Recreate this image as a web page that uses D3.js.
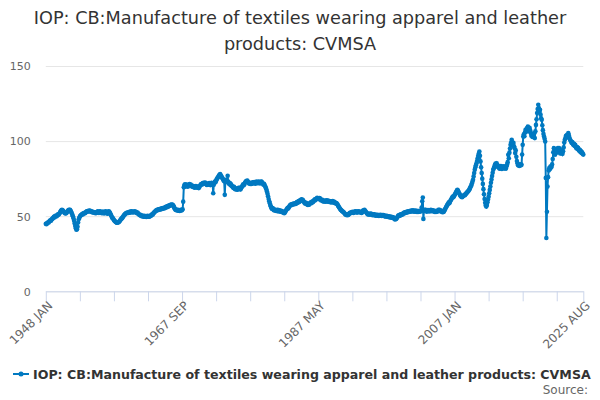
<!DOCTYPE html>
<html>
<head>
<meta charset="utf-8">
<script src="https://cdn.jsdelivr.net/npm/d3@7"></script>
<style>
  body { margin: 0; background: #fff; }
  svg { font-family: "DejaVu Sans", sans-serif; }
</style>
</head>
<body>
<svg id="canvas" width="600" height="400"></svg>
<script>
// monthly index values, one row per year
let v1948_1959 = [
  45.0, 44.6, 45.2, 45.5, 46.0, 45.8, 46.5, 46.9, 47.2, 47.0, 47.8, 48.2,
  48.5, 48.9, 49.6, 49.2, 50.1, 49.8, 50.4, 50.0, 50.6, 51.2, 51.0, 51.5,
  52.0, 52.8, 53.5, 53.9, 54.3, 54.0, 53.6, 53.0, 52.4, 52.1, 51.8, 52.0,
  52.3, 52.9, 53.5, 54.0, 54.3, 54.1, 54.2, 53.6, 52.8, 51.9, 50.8, 49.9,
  48.6, 47.0, 45.2, 43.5, 42.0, 41.0, 41.3, 43.0, 45.8, 47.9, 49.0, 49.8,
  50.3, 50.8, 51.0, 51.4, 51.2, 52.0, 51.8, 52.3, 52.0, 52.5, 52.9, 53.2,
  53.0, 53.5, 53.3, 53.8, 53.4, 53.6, 53.0, 53.2, 52.7, 52.9, 52.5, 52.8,
  52.3, 52.6, 52.0, 52.4, 52.1, 52.8, 53.2, 52.6, 52.2, 52.9, 53.3, 52.7,
  52.4, 52.0, 52.6, 53.1, 52.5, 51.8, 52.3, 52.9, 53.2, 52.6, 52.0, 51.6,
  52.8, 53.3, 52.9, 52.3, 51.5, 50.7, 49.8, 49.0, 48.7, 48.1, 47.4, 47.0,
  46.6, 46.1, 45.9, 45.6, 45.8, 46.0, 45.9, 46.3, 46.8, 47.3, 47.9, 48.3,
  48.7, 49.2, 49.8, 50.3, 50.9, 51.2, 51.6, 52.0, 52.3, 52.1, 52.5, 52.2
]
let v1960s = [
  52.6, 52.9, 52.4, 53.1, 52.7, 53.3, 52.8, 52.5, 53.0, 52.6, 53.2, 52.8,
  52.9, 52.4, 52.0, 52.5, 51.8, 51.3, 51.0, 50.6, 50.9, 50.3, 50.0, 50.4,
  50.1, 49.7, 49.9, 50.3, 49.6, 49.8, 49.5, 49.9, 50.2, 49.7, 50.0, 49.6,
  49.9, 50.4, 50.1, 50.8, 51.3, 51.0, 51.7, 52.2, 52.6, 53.0, 53.4, 53.7,
  53.9, 54.3, 54.0, 54.6, 54.3, 54.8, 54.5, 55.0, 54.7, 55.2, 55.0, 55.4,
  55.1, 55.6, 55.3, 55.9, 56.2, 55.8, 56.4, 56.7, 56.3, 56.9, 57.2, 57.0,
  57.4, 57.7, 57.3, 57.8, 57.5, 57.0, 56.2, 55.3, 54.6, 54.2, 54.5, 54.0,
  53.8, 54.2, 53.6, 54.0, 53.5, 53.9, 54.3, 53.8, 54.1, 54.6, 59.7, 69.2,
  70.5, 71.2, 69.8, 70.4, 71.0, 70.1, 69.6, 70.3, 70.9, 71.4, 70.7, 71.1,
  70.4, 69.8, 70.2, 69.5, 70.0, 69.3, 68.9, 69.6, 70.1, 69.4, 69.0, 69.7
]
let v1970s = [
  69.2, 68.7, 69.5, 70.2, 70.8, 71.4, 70.9, 71.6, 72.1, 71.5, 72.3, 71.8,
  72.4, 71.9, 71.2, 70.8, 71.5, 70.9, 71.6, 72.0, 71.3, 70.7, 71.4, 72.2,
  71.5, 70.8, 65.3, 71.0, 72.3, 73.1, 72.6, 73.8, 74.5, 75.2, 75.8, 76.4,
  77.1, 77.6, 78.0, 77.2, 76.5, 75.9, 75.2, 74.6, 73.8, 73.2, 64.2, 73.5,
  74.2, 73.4, 72.6, 76.9, 73.0, 72.1, 71.4, 72.0, 70.6, 71.2, 70.3, 69.8,
  69.4, 68.8, 69.6, 68.5, 67.9, 68.6, 67.8, 68.3, 67.6, 68.1, 68.9, 68.4,
  68.9, 67.8, 68.5, 69.2, 69.8, 70.5, 71.2, 70.6, 71.5, 72.3, 72.8, 73.4,
  73.0, 73.7, 72.9, 72.4, 71.8, 72.3, 71.5, 72.0, 71.4, 71.9, 72.5, 71.8,
  72.3, 72.8, 72.1, 71.6, 72.4, 73.0, 72.6, 71.9, 72.5, 73.1, 72.4, 71.8,
  72.5, 73.0, 72.9, 72.2, 71.6, 70.9, 71.5, 70.7, 69.8, 69.0, 67.9, 66.4
]
let v1980s = [
  65.0, 63.2, 61.5, 60.0, 58.7, 57.2, 56.5, 55.3, 54.8, 55.4, 54.6, 54.0,
  54.5, 53.8, 54.2, 53.5, 54.0, 53.4, 54.3, 53.7, 53.2, 53.9, 53.1, 53.6,
  52.9, 53.4, 52.6, 53.0, 52.3, 52.0, 52.5, 53.1, 53.8, 54.4, 55.0, 55.6,
  55.2, 56.0, 56.6, 57.3, 57.5, 58.0, 57.4, 57.9, 58.3, 57.8, 58.5, 58.1,
  58.6, 58.2, 58.9, 59.4, 58.8, 59.6, 60.1, 59.5, 60.3, 60.8, 60.2, 61.3,
  60.6, 61.0, 60.3, 59.6, 59.0, 58.4, 59.1, 58.6, 57.9, 58.4, 57.5, 58.1,
  57.6, 58.3, 58.8, 59.3, 58.7, 59.5, 60.0, 59.4, 60.2, 60.7, 61.2, 60.6,
  61.3, 61.8, 62.2, 61.6, 62.0, 61.4, 62.1, 61.7, 61.0, 60.5, 61.1, 60.4,
  59.9, 60.5, 59.8, 60.3, 59.6, 60.1, 60.6, 59.9, 60.4, 59.7, 60.2, 59.5,
  60.0, 59.4, 59.9, 59.2, 59.7, 60.1, 59.5, 59.0, 59.6, 58.9, 58.5, 58.8
]
let v1990s = [
  58.4, 57.9, 57.2, 56.6, 56.0, 55.3, 54.8, 54.2, 53.9, 53.5, 53.1, 53.0,
  52.6, 52.1, 51.6, 51.2, 50.9, 51.3, 50.7, 51.2, 50.8, 51.4, 51.9, 52.3,
  52.0, 52.6, 52.3, 52.9, 52.5, 52.2, 52.8, 53.1, 52.7, 53.3, 52.9, 52.4,
  52.8, 53.3, 52.7, 53.1, 52.6, 53.0, 52.5, 52.1, 52.7, 53.4, 54.0, 53.5,
  54.2, 53.6, 53.1, 52.6, 52.0, 51.7, 51.2, 51.6, 51.0, 51.4, 51.8, 51.2,
  51.6, 51.0, 50.6, 51.2, 50.8, 51.3, 50.7, 50.4, 51.0, 50.5, 50.9, 50.3,
  50.7, 50.2, 50.8, 50.4, 51.0, 50.6, 50.1, 50.7, 50.3, 50.8, 50.2, 49.9,
  50.3, 49.8, 50.2, 49.6, 50.1, 49.5, 49.9, 49.3, 49.7, 49.1, 49.6, 49.0,
  49.4, 48.9, 49.3, 48.6, 48.2, 47.8, 48.5, 48.1, 48.8, 49.4, 50.1, 50.6,
  50.2, 50.9, 50.5, 51.2, 50.8, 51.5, 51.1, 51.8, 52.3, 51.9, 52.6, 52.2
]
let v2000s = [
  52.8, 52.4, 53.1, 52.7, 53.3, 52.9, 53.5, 53.0, 53.6, 53.2, 53.8, 53.3,
  53.9, 53.4, 53.0, 53.6, 53.1, 53.7, 53.2, 52.8, 53.4, 52.9, 53.5, 53.0,
  53.6, 53.1, 53.5, 55.8, 60.0, 62.5, 48.2, 53.8, 54.3, 53.7, 54.2, 53.5,
  53.0, 53.6, 54.1, 53.5, 53.9, 53.2, 53.7, 54.3, 53.8, 53.3, 53.9, 53.4,
  53.8, 53.2, 52.8, 53.4, 52.9, 53.5, 53.0, 53.6, 54.2, 53.7, 54.3, 53.6,
  53.1, 53.7, 53.2, 52.6, 53.3, 52.8, 53.5, 54.2, 55.0, 55.8, 56.5, 57.2,
  57.8, 58.5, 59.2, 58.7, 59.6, 60.4, 61.0, 61.8, 62.5, 63.1, 62.6, 63.4,
  64.0, 64.8, 65.5, 66.2, 67.0, 67.6, 66.9, 66.1, 65.3, 64.5, 63.8, 63.2,
  63.0, 62.6, 63.1, 63.4, 63.8, 64.3, 64.0, 64.6, 65.1, 65.5, 65.9, 66.4,
  66.8, 67.4, 68.0, 68.9, 69.8, 70.5, 71.8, 73.0, 74.3, 76.5, 78.8, 81.0
]
let v2010s = [
  82.6, 83.9, 85.3, 86.8, 88.5, 90.2, 91.7, 93.0, 90.2, 86.5, 82.6, 78.7,
  75.0, 71.5, 68.0, 64.6, 61.5, 59.0, 57.2, 56.4, 57.5, 59.3, 61.2, 63.0,
  65.2, 67.5, 69.8, 72.3, 74.5, 76.8, 78.9, 80.9, 82.0, 83.1, 84.2, 85.0,
  84.5, 85.3, 84.0, 82.8, 83.5, 82.2, 81.6, 82.9, 83.4, 82.1, 81.5, 82.8,
  83.3, 82.5, 81.8, 83.0, 82.4, 81.7, 83.2, 84.5, 86.0, 90.9, 88.5, 92.3,
  95.0, 97.6, 99.0, 100.9, 99.2, 97.3, 98.8, 96.5, 95.3, 92.0, 93.8, 89.5,
  86.8, 85.2, 84.0, 84.2, 83.5, 84.4, 83.8, 84.6, 84.2, 91.0, 97.5, 103.0,
  104.5, 103.2, 105.8, 107.5, 106.2, 108.4, 107.0, 109.7, 108.1, 106.5, 108.8, 107.2,
  105.4, 103.6, 104.9, 102.8, 104.5, 103.0, 105.2, 102.0, 106.5, 110.8, 114.5, 118.7,
  121.3, 124.2, 122.0, 119.5, 120.8, 117.6, 115.2, 114.2, 110.5, 107.3, 104.8, 103.0
]
let v2020s = [
  101.5, 99.7, 75.5, 35.5, 53.0, 69.7, 76.0, 80.5, 82.0, 81.3, 83.0, 82.4,
  83.0, 84.5, 88.0, 92.5, 95.3, 93.0, 90.9, 92.8, 94.6, 92.2, 93.5, 95.3,
  94.0, 95.3, 93.1, 91.8, 92.0, 93.7, 92.4, 91.5, 93.2, 95.8, 99.0, 100.9,
  102.0, 103.5, 102.4, 104.0, 103.1, 105.3, 103.8, 102.2, 101.0, 100.4, 99.5, 98.7,
  99.3, 98.0, 97.4, 98.2, 96.8, 97.5, 96.1, 95.3, 96.0, 94.8, 95.5, 94.0,
  93.5, 94.2, 92.8, 93.4, 92.0, 92.6, 91.5, 91.0
]

let firstYear = 1948
let monthNames = ['JAN', 'FEB', 'MAR', 'APR', 'MAY', 'JUN', 'JUL', 'AUG', 'SEP', 'OCT', 'NOV', 'DEC']
let tickLabels = ['1948 JAN', '1967 SEP', '1987 MAY', '2007 JAN', '2025 AUG']
let yTicks = [0, 50, 100, 150]
let tickStep = 59

let seriesName = 'IOP: CB:Manufacture of textiles wearing apparel and leather products: CVMSA'
let titleLines = ['IOP: CB:Manufacture of textiles wearing apparel and leather', 'products: CVMSA']

let values = [].concat(v1948_1959, v1960s, v1970s, v1980s, v1990s, v2000s, v2010s, v2020s)

// category labels "YYYY MON", one per value
let categories = values.map((v, i) => (firstYear + Math.floor(i / 12)) + ' ' + monthNames[i % 12])

let blue = '#0079c1'
let plotLeft = 45.8, plotRight = 583.3, plotTop = 66, plotBottom = 291.3

let canvas = d3.select('#canvas')

let x = d3.scalePoint().domain(categories).range([plotLeft, plotRight])
let y = d3.scaleLinear().domain([0, 150]).range([plotBottom, plotTop])

// title
canvas.append('text')
    .attr('x', 300)
    .attr('y', 24)
    .attr('text-anchor', 'middle')
    .attr('fill', '#333')
    .style('font-size', '17.7px')
    .selectAll('tspan')
    .data(titleLines)
    .enter()
    .append('tspan')
    .attr('x', 300)
    .attr('dy', (d, i) => i === 0 ? 0 : 26)
    .text(d => d)

// y grid + labels
let yAxis = canvas.append('g')
    .attr('transform', `translate(${plotLeft},0)`)
    .call(d3.axisLeft(y).tickValues(yTicks).tickSize(-(plotRight - plotLeft)).tickPadding(15))
yAxis.select('.domain').remove()
yAxis.selectAll('line').attr('stroke', '#e6e6e6')
yAxis.selectAll('text')
    .attr('fill', '#666')
    .attr('dy', '0.35em')
    .style('font-size', '11px')
    .style('font-family', '"DejaVu Sans", sans-serif')

// x axis: a tick every 59 months, labels on a few of them
let tickCats = d3.range(0, values.length, tickStep).map(i => categories[i])
tickCats.push(categories[values.length - 1])

let xAxis = canvas.append('g')
    .attr('transform', `translate(0,${plotBottom})`)
    .call(d3.axisBottom(x)
        .tickValues(tickCats)
        .tickSize(10)
        .tickSizeOuter(0)
        .tickFormat(d => tickLabels.includes(d) ? d : ''))
xAxis.select('.domain').attr('stroke', '#ccd6eb')
xAxis.selectAll('line').attr('stroke', '#ccd6eb')
xAxis.selectAll('text')
    .attr('y', 0)
    .attr('dy', 0)
    .attr('text-anchor', 'end')
    .attr('transform', 'translate(7,15) rotate(-45)')
    .attr('fill', '#666')
    .style('font-size', '12px')
    .style('font-family', '"DejaVu Sans", sans-serif')

// series
let line = d3.line()
    .x((d, i) => x(categories[i]))
    .y(d => y(d))

canvas.append('path')
    .datum(values)
    .attr('d', line)
    .attr('fill', 'none')
    .attr('stroke', blue)
    .attr('stroke-width', 2)

canvas.append('g')
    .selectAll('circle')
    .data(values)
    .enter()
    .append('circle')
    .attr('cx', (d, i) => x(categories[i]))
    .attr('cy', d => y(d))
    .attr('r', 2.3)
    .attr('fill', blue)

// legend
let legend = canvas.append('g').attr('transform', 'translate(13,374)')
legend.append('line')
    .attr('x1', 0).attr('x2', 16)
    .attr('stroke', blue)
    .attr('stroke-width', 2)
legend.append('circle')
    .attr('cx', 8)
    .attr('r', 2.5)
    .attr('fill', blue)
legend.append('text')
    .attr('x', 20)
    .attr('y', 4.5)
    .attr('fill', '#333')
    .style('font-size', '12.6px')
    .style('font-weight', 'bold')
    .text(seriesName)

canvas.append('text')
    .attr('x', 588)
    .attr('y', 394)
    .attr('text-anchor', 'end')
    .attr('fill', '#666')
    .style('font-size', '12px')
    .text('Source:')
</script>
</body>
</html>
